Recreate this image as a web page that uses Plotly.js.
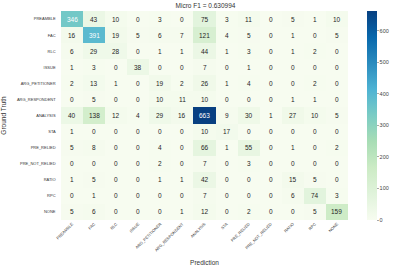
<!DOCTYPE html>
<html><head><meta charset="utf-8">
<script src="https://cdn.plot.ly/plotly-3.0.1.min.js"></script>
<style>html,body{margin:0;padding:0;background:#fff;}#chart{width:399px;height:270px;}</style>
</head><body><div id="chart"></div>
<script>
const labels = ["PREAMBLE","FAC","RLC","ISSUE","ARG_PETITIONER","ARG_RESPONDENT","ANALYSIS","STA","PRE_RELIED","PRE_NOT_RELIED","RATIO","RPC","NONE"];
const row_PREAMBLE       = [346, 43, 10, 0, 3, 0, 75, 3, 11, 0, 5, 1, 10];
const row_FAC            = [16, 391, 19, 5, 6, 7, 121, 4, 5, 0, 1, 0, 5];
const row_RLC            = [6, 29, 28, 0, 1, 1, 44, 1, 3, 0, 1, 2, 0];
const row_ISSUE          = [1, 3, 0, 38, 0, 0, 7, 0, 1, 0, 0, 0, 0];
const row_ARG_PETITIONER = [2, 13, 1, 0, 19, 2, 26, 1, 4, 0, 0, 2, 0];
const row_ARG_RESPONDENT = [0, 5, 0, 0, 10, 11, 10, 0, 0, 0, 1, 1, 0];
const row_ANALYSIS       = [40, 138, 12, 4, 29, 16, 663, 9, 30, 1, 27, 10, 5];
const row_STA            = [1, 0, 0, 0, 0, 0, 10, 17, 0, 0, 0, 0, 0];
const row_PRE_RELIED     = [5, 8, 0, 0, 4, 0, 66, 1, 55, 0, 1, 0, 2];
const row_PRE_NOT_RELIED = [0, 0, 0, 0, 2, 0, 7, 0, 3, 0, 0, 0, 0];
const row_RATIO          = [1, 5, 0, 0, 1, 1, 42, 0, 0, 0, 15, 5, 0];
const row_RPC            = [0, 1, 0, 0, 0, 0, 7, 0, 0, 0, 6, 74, 3];
const row_NONE           = [5, 6, 0, 0, 0, 1, 12, 0, 2, 0, 0, 5, 159];
const matrix = [row_PREAMBLE,row_FAC,row_RLC,row_ISSUE,row_ARG_PETITIONER,row_ARG_RESPONDENT,row_ANALYSIS,row_STA,row_PRE_RELIED,row_PRE_NOT_RELIED,row_RATIO,row_RPC,row_NONE];
const titleText = "Micro F1 = 0.630994";
const colorbarTicks = [0,100,200,300,400,500,600];

const gnbu = [[0,'#f7fcf0'],[0.125,'#e0f3db'],[0.25,'#ccebc5'],[0.375,'#a8ddb5'],[0.5,'#7bccc4'],[0.625,'#4eb3d3'],[0.75,'#2b8cbe'],[0.875,'#0868ac'],[1,'#084081']];
const FONT = 'Liberation Sans, Arial, sans-serif';
const ZMAX = Math.max(...matrix.flat());

const trace = {
  type:'heatmap', z: matrix, x: labels, y: labels,
  colorscale: gnbu, zmin: 0, zmax: ZMAX,
  xgap: 0, ygap: 0,
  colorbar: {
    x: 1.0625, xanchor:'left', xpad:0, ypad:0, y:0.5, yanchor:'middle', len:1, lenmode:'fraction',
    thickness: 10, outlinewidth: 0,
    tickvals: colorbarTicks, ticks:'outside', ticklen:2, tickwidth:0.5, tickcolor:'#555',
    tickfont:{family: FONT, size:5.5, color:'#444'}
  }
};
const annotations = [];
matrix.forEach((row, i) => row.forEach((v, j) => {
  annotations.push({x: labels[j], y: labels[i], xref:'x', yref:'y', text: String(v), showarrow:false,
    font:{family:FONT, size:6.5, color: v > ZMAX*0.45 ? '#ffffff' : '#262626'}});
}));
const layout = {
  width:399, height:270,
  margin:{l:61, r:50, t:11, b:50},
  paper_bgcolor:'#fff', plot_bgcolor:'#fff',
  font:{family: FONT, color:'#333'},
  annotations: annotations,
  title:{text:titleText, font:{family:FONT, size:6.5, color:'#333'}, x:0.515, xanchor:'center', y:0.988, yanchor:'top'},
  xaxis:{type:'category', tickangle:-45, tickfont:{family:FONT, size:4, color:'#333'}, ticks:'', showgrid:false, zeroline:false,
         title:{text:'Prediction', font:{family:FONT, size:6.5, color:'#333'}, standoff:8}},
  yaxis:{type:'category', autorange:'reversed', tickfont:{family:FONT, size:4, color:'#333'}, ticks:'', ticklen:0, showgrid:false, zeroline:false, ticksuffix:'    ',
         title:{text:'Ground Truth', font:{family:FONT, size:6.5, color:'#333'}, standoff:9}}
};
Plotly.newPlot('chart',[trace],layout,{displayModeBar:false, staticPlot:true});
</script></body></html>
